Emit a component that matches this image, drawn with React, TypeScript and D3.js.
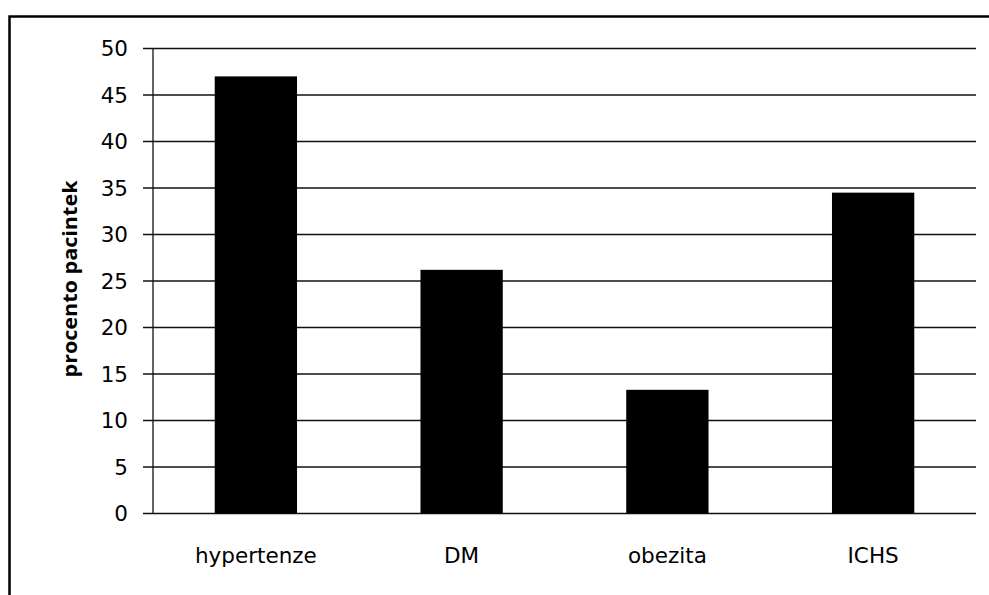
import React from "react";
import * as d3 from "d3";

const categories = ["hypertenze", "DM", "obezita", "ICHS"];
const values = [47, 26.2, 13.3, 34.5];
const yTicks = [0, 5, 10, 15, 20, 25, 30, 35, 40, 45, 50];
const yTitle = "procento pacintek";

export default function App() {
  const W = 989;
  const H = 595;
  const left = 153;
  const right = 976;
  const top = 48.5;
  const bottom = 513.5;

  const x = d3.scaleBand<string>().domain(categories).range([left, right]).paddingInner(0.6).paddingOuter(0.3);
  const y = d3.scaleLinear().domain([0, 50]).range([bottom, top]);

  const font = "'DejaVu Sans', sans-serif";

  return (
    <svg
      width={W}
      height={H}
      style={{ position: "fixed", left: 0, top: 0, background: "#fff" }}
      xmlns="http://www.w3.org/2000/svg"
    >
      <rect x={0} y={0} width={W} height={H} fill="#fff" />
      {/* outer frame */}
      <rect x={9.5} y={16.5} width={W + 20} height={H + 20} fill="none" stroke="#000" strokeWidth={2.5} />

      {/* gridlines + ticks */}
      {yTicks.map((t) => (
        <g key={t}>
          <line x1={left - 10} x2={right} y1={y(t)} y2={y(t)} stroke="#111" strokeWidth={1.3} />
          <text
            x={128}
            y={y(t)}
            textAnchor="end"
            dominantBaseline="central"
            fontFamily={font}
            fontSize={21.5}
            fill="#000"
          >
            {t}
          </text>
        </g>
      ))}

      {/* y axis line */}
      <line x1={left} x2={left} y1={top} y2={bottom} stroke="#111" strokeWidth={1.3} />

      {/* bars */}
      {categories.map((c, i) => (
        <rect
          key={c}
          x={x(c)}
          y={y(values[i])}
          width={x.bandwidth()}
          height={y(0) - y(values[i])}
          fill="#000"
        />
      ))}

      {/* x labels */}
      {categories.map((c) => (
        <text
          key={c}
          x={(x(c) as number) + x.bandwidth() / 2}
          y={563}
          textAnchor="middle"
          fontFamily={font}
          fontSize={21.5}
          fill="#000"
        >
          {c}
        </text>
      ))}

      {/* y title */}
      <text
        transform={`translate(77, 279) rotate(-90)`}
        textAnchor="middle"
        fontFamily="'Open Sans', sans-serif"
        fontWeight="bold"
        fontSize={19}
        fill="#000"
        textLength={197}
        lengthAdjust="spacingAndGlyphs"
      >
        {yTitle}
      </text>
    </svg>
  );
}
